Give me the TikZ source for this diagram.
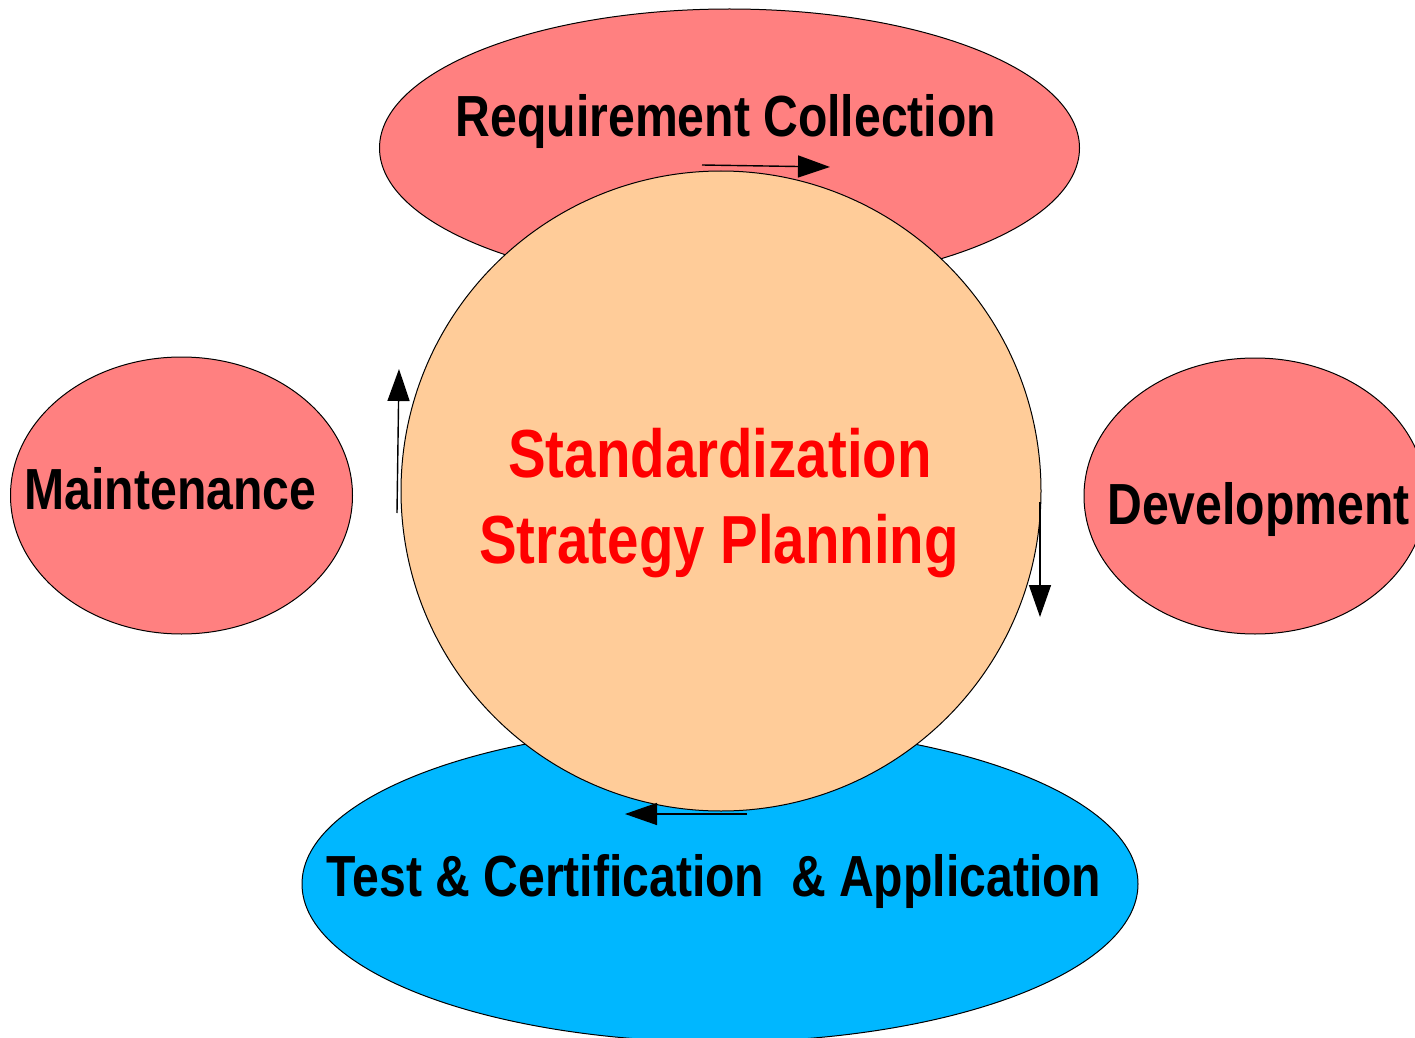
\documentclass[tikz,border=0pt]{standalone}
\usepackage{fontspec}
\setmainfont{Liberation Sans}[FakeStretch=0.83]
\usetikzlibrary{shapes.geometric,arrows.meta}
\definecolor{phasered}{HTML}{FF8080}
\definecolor{testblue}{HTML}{00B7FF}
\definecolor{corepeach}{HTML}{FFCC99}
\tikzset{
  phase/.style={ellipse,draw,line width=0.5pt,inner sep=0pt,fill=phasered},
  phasetext/.style={anchor=base,inner sep=0pt,font=\fontsize{29}{34}\selectfont\bfseries},
  coretext/.style={anchor=base,inner sep=0pt,text=red,font=\fontsize{34}{43}\selectfont\bfseries},
  cycle/.style={line width=0.7pt,-{Triangle[length=16pt,width=11pt]}}
}
\begin{document}
\begin{tikzpicture}[x=0.5pt,y=-0.5pt]
	\clip (0,0) rectangle (1415,1038);
	\fill[white] (0,0) rectangle (1415,1038);
	\node[phase,minimum width=350pt,minimum height=139pt] (req) at (729.5,148) {};
	\node[phase,minimum width=171pt,minimum height=138.5pt] (maint) at (181.5,495.5) {};
	\node[phase,minimum width=171pt,minimum height=138pt] (dev) at (1255,496) {};
	\node[phase,fill=testblue,minimum width=418pt,minimum height=158pt] (test) at (720,884) {};
	\node[circle,draw,line width=0.5pt,inner sep=0pt,fill=corepeach,minimum size=320pt] (core) at (721,491) {};
	\node[phasetext] (reqtext) at (726,137) {Requirement Collection};
	\node[phasetext] (maintext) at (170.5,509) {Maintenance};
	\node[phasetext] (devtext) at (1258.5,524) {Development};
	\node[phasetext] (testtext) at (714,896) {Test \& Certification~ \& Application};
	\node[coretext] (stdtext) at (720,477) {Standardization};
	\node[coretext] (plantext) at (719,563) {Strategy Planning};
	\coordinate (a1) at (702,165);
	\coordinate (b1) at (830,167);
	\coordinate (a2) at (1040,502);
	\coordinate (b2) at (1040,617);
	\coordinate (a3) at (747,814);
	\coordinate (b3) at (625,814);
	\coordinate (a4) at (397,513);
	\coordinate (b4) at (399,369);
	\draw[cycle] (a1) -- (b1);
	\draw[cycle] (a2) -- (b2);
	\draw[cycle] (a3) -- (b3);
	\draw[cycle] (a4) -- (b4);
\end{tikzpicture}
\end{document}
